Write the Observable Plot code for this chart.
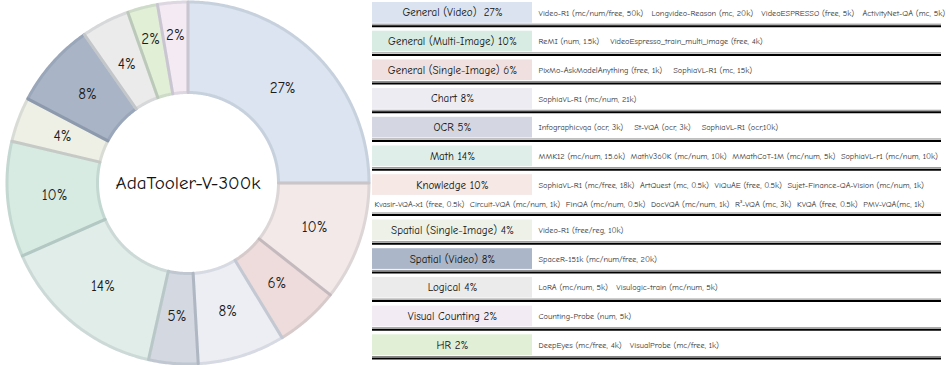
<!DOCTYPE html>
<html><head><meta charset="utf-8">
<script src="https://cdn.jsdelivr.net/npm/d3@7"></script>
<script src="https://cdn.jsdelivr.net/npm/@observablehq/plot@0.6"></script>
<style>
body{margin:0;background:#fff;}
#wrap{display:flex;width:946px;height:365px;overflow:hidden;}
#wrap svg{font-family:"Comic Sans MS","Comic Neue","Open Sans",sans-serif;flex:none;}
#wrap svg text{white-space:pre;}
</style></head><body><div id="wrap"></div>
<script>
// ---------- data ----------
const categories = ["General (Video)", "General (Multi-Image)", "General (Single-Image)", "Chart", "OCR", "Math", "Knowledge", "Spatial (Single-Image)", "Spatial (Video)", "Logical", "Visual Counting", "HR"];
const percentLabels = [27, 10, 6, 8, 5, 14, 10, 4, 8, 4, 2, 2];
// arc shares as drawn in the picture (angle of each slice, in %)
const arcShares = [25, 10.3, 5.7, 7.8, 4.4, 14.9, 10.6, 4.0, 7.6, 4.3, 2.7, 2.7];
// clockwise order of slices from 12 o'clock
const pieOrder = ["General (Video)", "Knowledge", "General (Single-Image)", "Chart", "OCR", "Math", "General (Multi-Image)", "Spatial (Single-Image)", "Spatial (Video)", "Logical", "HR", "Visual Counting"];
const descriptions = [
  "Video-R1 (mc/num/free, 50k)   Longvideo-Reason (mc, 20k)   VideoESPRESSO (free, 5k)   ActivityNet-QA (mc, 5k)",
  "ReMI (num, 1.5k)    VideoEspresso_train_multi_image (free, 4k)",
  "PixMo-AskModelAnything (free, 1k)    SophiaVL-R1 (mc, 15k)",
  "SophiaVL-R1 (mc/num, 21k)",
  "Infographicvqa (ocr, 3k)    St-VQA (ocr, 3k)    SophiaVL-R1 (ocr,10k)",
  "MMK12 (mc/num, 15.6k)  MathV360K (mc/num, 10k)  MMathCoT-1M (mc/num, 5k)  SophiaVL-r1 (mc/num, 10k)",
  "SophiaVL-R1 (mc/free, 18k)  ArtQuest (mc, 0.5k)  ViQuAE (free, 0.5k)  Sujet-Finance-QA-Vision (mc/num, 1k)",
  "Video-R1 (free/reg, 10k)",
  "SpaceR-151k (mc/num/free, 20k)",
  "LoRA (mc/num, 5k)   Visulogic-train (mc/num, 5k)",
  "Counting-Probe (num, 5k)",
  "DeepEyes (mc/free, 4k)   VisualProbe (mc/free, 1k)"
];
const extraDescriptions = [
  "", "", "", "", "", "",
  "Kvasir-VQA-x1 (free, 0.5k)  Circuit-VQA (mc/num, 1k)  FinQA (mc/num, 0.5k)  DocVQA (mc/num, 1k)  R\u00b3-VQA (mc, 3k)  KVQA (free, 0.5k)  PMV-VQA(mc, 1k)",
  "", "", "", "", ""
];
const centerTitle = "AdaTooler-V-300k";

// ---------- styles ----------
const palette = ["#dbe4f0", "#d7ebe2", "#eddcdb", "#eceef4", "#d3d8e1", "#e0ede8", "#f3e9e8", "#eef0e6", "#a9b4c7", "#ebebeb", "#f3eaf3", "#e2efd7"];
const boxPalette = ["#dae3ef", "#d8ece3", "#f0e1e0", "#ececf2", "#d4d7e1", "#e0eeea", "#f5e8e5", "#eef1e7", "#abb6c8", "#ebebeb", "#f3ebf3", "#e1efd7"];
const innerRatio = 0.5;
const extraLineHeight = 0.58;

// ---------- donut ----------
const byCat = new Map(categories.map((c, i) => [c, {cat: c, share: arcShares[i], pct: percentLabels[i]}]));
const pieData = pieOrder.map(c => byCat.get(c));
const arcs = d3.pie().value(d => d.share).sort(null)(pieData);
const pt = (r, a) => [r * Math.sin(a), -r * Math.cos(a)];
const features = arcs.map(a => {
  const n = Math.max(4, Math.ceil((a.endAngle - a.startAngle) / 0.01));
  const ring = [];
  for (let i = 0; i <= n; i++) ring.push(pt(1, a.startAngle + (a.endAngle - a.startAngle) * i / n));
  for (let i = n; i >= 0; i--) ring.push(pt(innerRatio, a.startAngle + (a.endAngle - a.startAngle) * i / n));
  ring.push(ring[0]);
  return {type: "Feature", properties: a.data, geometry: {type: "Polygon", coordinates: [ring]}};
});
const labels = arcs.map(a => {
  const mid = (a.startAngle + a.endAngle) / 2;
  const r = a.data.share < 3 ? 0.82 : 0.74;
  const [x, y] = pt(r, mid);
  return {x, y, text: a.data.pct + "%"};
});

const donut = Plot.plot({
  width: 372, height: 365,
  marginLeft: 3, marginRight: 0, marginTop: 0, marginBottom: 0,
  projection: {type: "identity", domain: {type: "MultiPoint", coordinates: [[-1, -1], [1, 1]]}, inset: 1.5},
  color: {domain: categories, range: palette},
  marks: [
    Plot.geo(features, {fill: d => d.properties.cat, stroke: d => d.properties.cat, strokeWidth: 3}),
    Plot.geo(features, {fill: "none", stroke: "#203040", strokeOpacity: 0.1, strokeWidth: 3}),
    Plot.text(labels, {x: "x", y: "y", text: "text", fontSize: 15, fill: "#1a1a1a"}),
    Plot.text([centerTitle], {frameAnchor: "middle", text: d => d, fontSize: 19, fill: "#111"})
  ]
});

// ---------- table ----------
const rowHeights = categories.map((c, i) => 1 + (extraDescriptions[i] ? extraLineHeight : 0));
let acc = 0;
const rows = categories.map((c, i) => {
  const top = acc; acc += rowHeights[i];
  return {cat: c, top, bottom: acc,
    label: c + (i === 0 ? "  " : " ") + percentLabels[i] + "%",
    desc: descriptions[i], extra: extraDescriptions[i]};
});
const totalUnits = acc;
const tableWidth = 574;
const boxEnd = 160, descStart = 166, ruleEnd = 569;

const table = Plot.plot({
  width: tableWidth, height: 365,
  margin: 0,
  x: {type: "linear", domain: [0, tableWidth], range: [0, tableWidth], axis: null},
  y: {type: "linear", domain: [0, totalUnits], range: [-3, 358], axis: null},
  color: {domain: categories, range: boxPalette},
  marks: [
    Plot.rect(rows, {x1: 0, x2: boxEnd, y1: "top", y2: d => d.top + 1, fill: "cat", insetTop: 5, insetBottom: 3}),
    Plot.text(rows, {x: boxEnd / 2, y: d => d.top + 0.5, dy: 1, text: "label", fontSize: 11, fill: "#111"}),
    Plot.text(rows, {x: descStart, y: d => d.top + 0.5, dy: 1, text: "desc", textAnchor: "start", fontSize: 8.3, fill: "#333"}),
    Plot.text(rows.filter(d => d.extra), {x: 2, y: d => d.top + 1 + extraLineHeight / 2, dy: -2, text: "extra", textAnchor: "start", fontSize: 8.3, fill: "#333"}),
    Plot.ruleY(rows, {y: "bottom", x1: 0, x2: ruleEnd, stroke: "#888", strokeWidth: 1, dy: -2}),
    Plot.ruleY(rows, {y: "bottom", x1: 0, x2: ruleEnd, stroke: "#000", strokeWidth: 2})
  ]
});

document.getElementById("wrap").append(donut, table);
</script>
</body></html>
